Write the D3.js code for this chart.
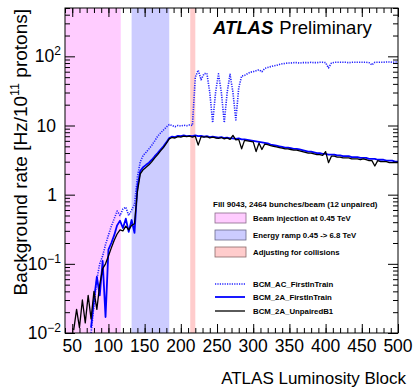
<!DOCTYPE html>
<html><head><meta charset="utf-8">
<script src="https://cdn.jsdelivr.net/npm/d3@7"></script>
<style>
html,body{margin:0;padding:0;background:#fff;}
svg{display:block;font-family:"Liberation Sans",Arial,Helvetica,sans-serif;}
</style></head>
<body>
<svg id="chart" width="415" height="388"></svg>
<script>
// ---------------- data ----------------
const lumiBlocks = [52,56,60,64,68,72,76,80,84,88,92,96,100,104,108,112,116,120,124,128,132,136,140,144,148,152,156,160,164,168,172,176,180,184,188,192,196,200,204,208,212,216,220,224,228,232,236,240,244,248,252,256,260,264,268,272,276,280,284,288,292,296,300,304,308,312,316,320,324,328,332,336,340,344,348,352,356,360,364,368,372,376,380,384,388,392,396,400,404,408,412,416,420,424,428,432,436,440,444,448,452,456,460,464,468,472,476,480,484,488,492,496,500];

const bcmACFirstInTrain = [null,null,null,null,null,null,
0.01,0.025,0.06,0.1,0.13,0.19,0.26,0.35,0.45,0.58,0.5,0.62,0.66,0.5,0.6,0.72,
1.8,3.0,3.7,4.1,4.6,5.2,6.0,7.0,7.8,8.6,9.5,10.3,10.0,9.6,10.0,9.8,10.1,9.9,10.2,
10.0,50,63,46,56,57,30,11,30,56,30,11,30,55,30,12,35,52,53,56,59,60,62,64,60,67,69,71,73,74,76,78,79,80,80,81,81,80,81,81,81,82,81,81,82,82,81,68,80,82,82,82,82,82,81,82,82,82,82,82,82,81,75,82,82,82,82,83,83,82,83,83];

const bcm2AFirstInTrain = [null,null,null,null,null,null,
0.012,0.03,0.065,0.035,0.11,0.017,0.16,0.2,0.26,0.36,0.42,0.33,0.45,0.29,0.43,0.28,
1.3,2.2,2.5,2.7,2.9,3.2,3.6,4.0,4.5,5.0,5.7,6.6,6.9,6.8,7.1,7.0,7.2,7.0,7.1,
7.0,7.2,7.0,7.1,6.9,7.0,6.8,6.9,6.8,6.7,6.8,6.6,6.7,6.5,6.5,6.4,6.5,6.3,6.3,6.2,6.1,6.0,5.9,5.8,5.7,5.6,5.5,5.3,5.2,5.1,5.0,4.9,4.8,4.8,4.7,4.6,4.6,4.5,4.4,4.3,4.2,4.2,4.1,4.0,4.0,3.9,3.9,3.8,3.8,3.8,3.7,3.7,3.6,3.6,3.6,3.5,3.5,3.5,3.4,3.4,3.4,3.3,3.3,3.3,3.2,3.2,3.2,3.1,3.1,3.1,3.0,3.0];

const bcm2AUnpairedB1 = [0.011,0.022,0.012,0.03,0.014,0.035,0.016,0.04,0.022,0.05,0.085,0.1,0.13,0.17,0.22,0.27,0.31,0.3,0.35,0.31,0.36,0.38,
1.1,2.0,2.3,2.5,2.7,3.0,3.4,3.8,4.3,4.8,5.5,6.4,6.7,6.6,6.9,6.8,7.0,6.9,7.0,
6.8,7.0,5.2,6.9,6.8,6.9,6.6,6.8,6.6,6.5,6.7,6.4,6.6,6.3,7.2,6.2,6.3,4.6,6.1,6.0,5.9,5.8,4.2,5.6,4.5,5.4,5.3,5.1,5.0,4.9,4.8,4.7,4.6,4.6,4.5,4.4,4.4,4.3,4.2,4.1,4.0,4.0,3.9,3.8,3.8,3.7,4.2,2.9,3.6,3.6,3.5,3.5,3.4,3.4,3.4,3.3,3.3,3.3,3.2,3.3,3.2,3.1,3.1,2.6,3.1,3.0,3.0,3.0,2.9,2.9,2.9,2.9];

const bandNames = ["Beam injection at 0.45 TeV","Energy ramp 0.45 -> 6.8 TeV","Adjusting for collisions"];
const bandStart = [40,132,213];
const bandEnd = [117,184,220];

const seriesNames = ["BCM_AC_FirstInTrain","BCM_2A_FirstInTrain","BCM_2A_UnpairedB1"];
const xTickValues = [50,100,150,200,250,300,350,400,450,500];
const yTickExponents = [-2,-1,0,1,2];
const legendTitle = "Fill 9043, 2464 bunches/beam (12 unpaired)";

// ---------------- styles ----------------
const bandColors = ["#ffccff","#ccccff","#ffcccc"];
const bandStroke = ["#8a6a8a","#6a6a8a","#8a6a6a"];
const seriesColors = ["#2222ff","#0000ff","#000000"];
const seriesWidths = [1.6,1.8,1.3];
const seriesDash = ["1.2,1.2",null,null];

// ---------------- layout ----------------
const L=65, T=8, R=398, B=333;
const svg = d3.select("#chart");
const x = d3.scaleLinear().domain([40,500]).range([L,R]);
const y = d3.scaleLog().domain([0.01,500]).range([B,T]);

svg.append("defs").append("clipPath").attr("id","clip")
  .append("rect").attr("x",L).attr("y",T).attr("width",R-L).attr("height",B-T);

// bands
const plot = svg.append("g").attr("clip-path","url(#clip)");
plot.selectAll("rect.band").data(bandNames).join("rect").attr("class","band")
  .attr("x",(d,i)=>x(bandStart[i])).attr("width",(d,i)=>x(bandEnd[i])-x(bandStart[i]))
  .attr("y",T).attr("height",B-T).attr("fill",(d,i)=>bandColors[i]);

// series
const allSeries = [bcmACFirstInTrain,bcm2AFirstInTrain,bcm2AUnpairedB1];
const line = d3.line().defined(d=>d[1]!=null).x(d=>x(d[0])).y(d=>y(d[1]));
allSeries.forEach((vals,i)=>{
  const pts = lumiBlocks.map((lb,j)=>[lb,vals[j]]);
  const p = plot.append("path").datum(pts).attr("d",line).attr("fill","none")
    .attr("stroke",seriesColors[i]).attr("stroke-width",seriesWidths[i])
    .attr("stroke-linejoin","round");
  if(seriesDash[i]) p.attr("stroke-dasharray",seriesDash[i]);
});

// axes: ticks
const xMinor = d3.range(40,501,10);
function xAxis(g, pos, sign){
  g.append("g").attr("transform",`translate(0,${pos})`)
    .call(d3.axisBottom(x).tickValues(xMinor).tickSize(sign*5).tickFormat(""))
    .call(s=>s.select(".domain").remove());
  g.append("g").attr("transform",`translate(0,${pos})`)
    .call(d3.axisBottom(x).tickValues(xTickValues).tickSize(sign*9).tickFormat(""))
    .call(s=>s.select(".domain").remove());
}
xAxis(svg,B,-1);
xAxis(svg,T,1);
const yMinor = [];
for(let e=-2;e<3;e++){ for(let k=2;k<=9;k++){ const v=k*Math.pow(10,e); if(v<=500) yMinor.push(v);} }
const yMajor = yTickExponents.map(e=>Math.pow(10,e));
function yAxis(pos, sign){
  svg.append("g").attr("transform",`translate(${pos},0)`)
    .call(d3.axisLeft(y).tickValues(yMinor).tickSize(sign*5).tickFormat(""))
    .call(s=>s.select(".domain").remove());
  svg.append("g").attr("transform",`translate(${pos},0)`)
    .call(d3.axisLeft(y).tickValues(yMajor).tickSize(sign*10).tickFormat(""))
    .call(s=>s.select(".domain").remove());
}
yAxis(L,-1);
yAxis(R,1);
svg.selectAll(".tick line").attr("stroke","#000").attr("stroke-width",1);

// frame
svg.append("rect").attr("x",L).attr("y",T).attr("width",R-L).attr("height",B-T)
  .attr("fill","none").attr("stroke","#000").attr("stroke-width",1);

// x tick labels
svg.append("g").selectAll("text").data(xTickValues).join("text")
  .attr("x",d=>x(d)).attr("y",B+19).attr("text-anchor","middle")
  .attr("font-size",17.5).text(d=>d);

// y tick labels
const yl = svg.append("g").selectAll("text").data(yTickExponents).join("text")
  .attr("x",61).attr("y",d=>y(Math.pow(10,d))+6).attr("text-anchor","end").attr("font-size",17.5);
yl.each(function(e){
  const t = d3.select(this);
  if(e===0){ t.attr("x",57).text("1"); }
  else if(e===1){ t.attr("x",56).text("10"); }
  else {
    t.append("tspan").text("10");
    t.append("tspan").attr("font-size",12).attr("dy",-7).text(e<0? "\u2212"+(-e): String(e));
  }
});

// axis titles
svg.append("text").attr("x",406).attr("y",384).attr("text-anchor","end")
  .attr("font-size",17).text("ATLAS Luminosity Block");
const yt = svg.append("text").attr("transform","translate(27,9) rotate(-90)")
  .attr("text-anchor","end").attr("font-size",19);
yt.append("tspan").text("Background rate [Hz/10");
yt.append("tspan").attr("font-size",12.5).attr("dy",-8).text("11");
yt.append("tspan").attr("dy",8).text(" protons]");

// ATLAS label
const at = svg.append("text").attr("x",213).attr("y",34).attr("font-size",18.5);
at.append("tspan").attr("font-weight","bold").attr("font-style","italic").text("ATLAS");
at.append("tspan").attr("dx",6).text("Preliminary");

// legend
const lg = svg.append("g").attr("font-weight","bold");
lg.append("text").attr("x",213).attr("y",207).attr("font-size",8).text(legendTitle);
const boxRowY = [213,230,247];
lg.selectAll("rect.lb").data(bandNames).join("rect").attr("class","lb")
  .attr("x",215).attr("y",(d,i)=>boxRowY[i]).attr("width",31).attr("height",10)
  .attr("fill",(d,i)=>bandColors[i]).attr("stroke",(d,i)=>bandStroke[i]).attr("stroke-width",0.8);
lg.selectAll("text.lbt").data(bandNames).join("text").attr("class","lbt")
  .attr("x",253).attr("y",(d,i)=>boxRowY[i]+8).attr("font-size",7.8).text(d=>d);
const lineRowY = [284,297,311];
seriesNames.forEach((nm,i)=>{
  const l = lg.append("line").attr("x1",215).attr("x2",245).attr("y1",lineRowY[i]).attr("y2",lineRowY[i])
    .attr("stroke",seriesColors[i]).attr("stroke-width",seriesWidths[i]);
  if(seriesDash[i]) l.attr("stroke-dasharray",seriesDash[i]);
  lg.append("text").attr("x",253).attr("y",lineRowY[i]+3).attr("font-size",7.8).text(nm);
});
</script>
</body></html>
